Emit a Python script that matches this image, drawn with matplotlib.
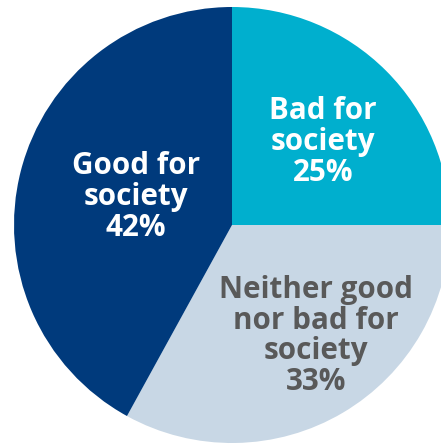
import matplotlib
matplotlib.use("Agg")
import matplotlib.pyplot as plt

# Pie shares, clockwise from 12 o'clock
labels = ["Bad for\nsociety", "Neither good\nnor bad for\nsociety", "Good for\nsociety"]
values = [25, 33, 42]
colors = ["#00AFCE", "#C8D7E5", "#003A7C"]
text_colors = ["white", "#595959", "white"]

fig = plt.figure(figsize=(4.41, 4.45), dpi=100)
ax = fig.add_axes([0, 0, 1, 1])

wedges, _ = ax.pie(values, colors=colors, startangle=90, counterclock=False,
                   center=(232, 220), radius=218, frame=True)
ax.set_xlim(0, 441)
ax.set_ylim(0, 445)
ax.set_aspect("equal")
ax.axis("off")

# label anchor points (pixel coords, y up)
label_pos = [(323, 303), (316, 109), (136, 248)]
for lab, v, c, (x, y) in zip(labels, values, text_colors, label_pos):
    ax.text(x, y, f"{lab}\n{v}%", ha="center", va="center", color=c,
            fontsize=21.3, fontweight="bold", family="Open Sans",
            linespacing=1.04)

fig.savefig("out.png", dpi=100)
